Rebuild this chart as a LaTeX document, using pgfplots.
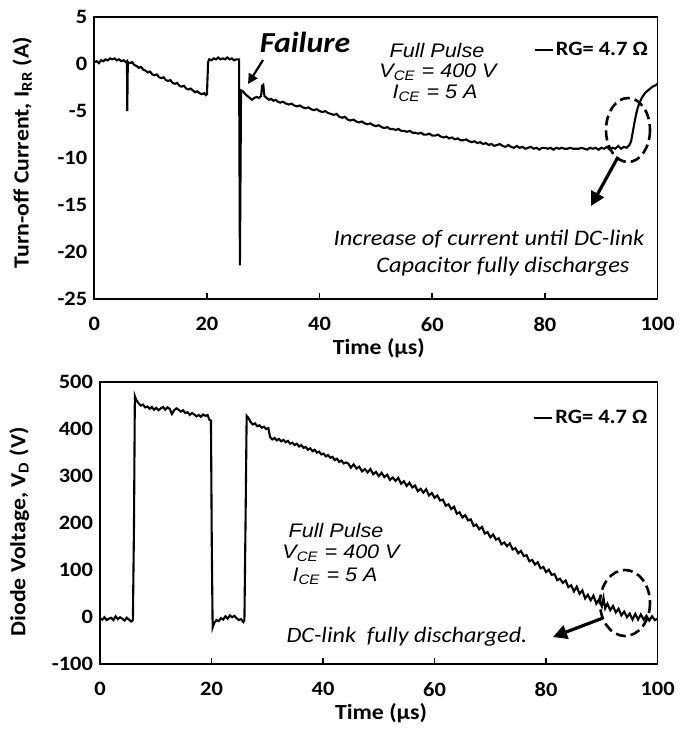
\documentclass[border=0pt]{standalone}
\usepackage{fontspec}
\setmainfont{Carlito}[FakeStretch=1.1]
\newfontfamily\arialfont{Liberation Sans}[FakeStretch=1.1]
\usepackage{pgfplots}
\usepackage{pgfplotstable}
\pgfplotsset{compat=1.18}
\usetikzlibrary{arrows.meta}

\pgfplotstableread{
x y
0 0.2
0.4 0.3
0.8 0.1
1.2 0.4
1.6 0.3
2.0 0.5
2.4 0.4
2.8 0.6
3.2 0.5
3.6 0.6
4.0 0.4
4.4 0.5
4.8 0.3
5.2 0.4
5.6 0.2
5.8 0.3
5.85 -5.0
5.95 0.2
6.3 0.1
6.7 0.2
7.1 -0.1
7.5 -0.2
7.9 -0.4
8.3 -0.3
8.7 -0.6
9.1 -0.7
9.5 -0.9
9.9 -0.8
10.3 -1.1
10.7 -1.2
11.1 -1.1
11.5 -1.4
11.9 -1.5
12.3 -1.4
12.7 -1.7
13.1 -1.8
13.5 -1.7
13.9 -2.0
14.3 -2.1
14.7 -2.0
15.1 -2.3
15.5 -2.4
15.9 -2.3
16.3 -2.6
16.7 -2.7
17.1 -2.6
17.5 -2.8
17.9 -3.0
18.3 -2.9
18.7 -3.1
19.1 -3.2
19.5 -3.1
19.8 -3.3
20.0 -3.2
20.2 0.2
20.4 0.5
20.8 0.4
21.2 0.6
21.6 0.5
22.0 0.7
22.4 0.5
22.8 0.6
23.2 0.5
23.6 0.7
24.0 0.5
24.4 0.6
24.8 0.4
25.2 0.5
25.7 0.5
25.85 -21.4
26.05 -2.8
26.4 -2.9
26.8 -3.2
27.2 -3.4
27.6 -3.6
28.0 -3.8
28.4 -3.6
28.8 -3.5
29.2 -3.6
29.6 -3.4
29.8 -2.3
30.0 -2.2
30.2 -3.4
30.6 -3.6
31.0 -3.8
31.4 -3.7
31.8 -3.9
32.2 -3.8
32.6 -4.0
33 -4.1
33.5 -4.0
34 -4.2
34.5 -4.3
35 -4.2
35.5 -4.4
36 -4.5
36.5 -4.4
37 -4.6
37.5 -4.7
38 -4.6
38.5 -4.8
39 -4.9
39.5 -4.8
40 -5.0
40.5 -5.1
41 -5.0
41.5 -5.2
42 -5.3
42.5 -5.4
43 -5.3
43.5 -5.6
44 -5.7
44.5 -5.6
45 -5.9
45.5 -6.0
46 -5.9
46.5 -6.1
47 -6.2
47.5 -6.1
48 -6.3
48.5 -6.4
49 -6.3
49.5 -6.5
50 -6.6
50.5 -6.5
51 -6.7
51.5 -6.8
52 -6.7
52.5 -6.9
53 -6.9
53.5 -7.0
54 -6.9
54.5 -7.1
55 -7.1
55.5 -7.2
56 -7.1
56.5 -7.3
57 -7.3
57.5 -7.4
58 -7.3
58.5 -7.5
59 -7.5
59.5 -7.4
60 -7.6
60.5 -7.6
61 -7.5
61.5 -7.7
62 -7.8
62.5 -7.7
63 -7.9
63.5 -7.8
64 -8.0
64.5 -7.9
65 -8.1
65.5 -8.1
66 -8.0
66.5 -8.2
67 -8.3
67.5 -8.2
68 -8.4
68.5 -8.3
69 -8.5
69.5 -8.4
70 -8.6
70.5 -8.5
71 -8.7
71.5 -8.6
72 -8.5
72.5 -8.7
73 -8.8
73.5 -8.6
74 -8.8
74.5 -8.9
75 -8.7
75.5 -8.9
76 -8.8
76.5 -9.0
77 -8.9
77.5 -8.8
78 -9.0
78.5 -8.9
79 -9.1
79.5 -8.9
80 -8.9
80.5 -9.0
81 -8.9
81.5 -9.1
82 -8.9
82.5 -9.0
83 -8.9
83.5 -9.0
84 -9.0
84.5 -8.9
85 -9.0
85.5 -9.0
86 -9.0
86.5 -8.9
87 -9.0
87.5 -9.1
88 -8.9
88.5 -9.0
89 -8.9
89.5 -9.1
90 -8.9
90.5 -9.0
91 -8.8
91.5 -9.1
92 -8.9
92.5 -9.0
93 -8.7
93.5 -9.0
94 -8.8
94.5 -8.9
95 -8.6
95.3 -8.2
95.6 -7.2
95.9 -6.2
96.2 -5.3
96.5 -4.6
96.8 -4.1
97.1 -3.7
97.5 -3.3
97.9 -3.0
98.3 -2.8
98.7 -2.6
99.1 -2.4
99.5 -2.3
100 -2.1
}\topdata

\pgfplotstableread{
x y
0 -2
0.4 -5
0.8 0
1.2 -6
1.6 -3
2.0 -1
2.4 -6
2.8 2
3.2 -4
3.6 0
4.0 -3
4.4 -7
4.8 -1
5.2 -5
5.6 -9
5.9 -6
6.1 200
6.25 470
6.5 462
6.9 455
7.3 450
7.7 452
8.1 446
8.5 448
8.9 443
9.3 447
9.7 441
10.1 445
10.5 440
10.9 444
11.3 447
11.7 441
12.1 446
12.5 443
12.9 432
13.3 440
13.7 444
14.1 441
14.5 437
14.9 440
15.3 434
15.7 436
16.1 430
16.5 434
16.9 431
17.3 427
17.7 430
18.1 426
18.5 431
18.9 428
19.3 430
19.6 420
19.9 418
20.05 150
20.2 -22
20.5 -12
20.9 -6
21.3 -8
21.7 -2
22.1 -5
22.5 2
22.9 -3
23.3 4
23.7 0
24.1 3
24.5 -2
24.9 -6
25.3 -4
25.7 -10
25.9 -6
26.1 200
26.3 428
26.6 424
27.0 415
27.4 410
27.8 412
28.2 406
28.6 408
29.0 403
29.4 405
29.8 400
30.2 402
30.5 383
30.9 378
31.3 381
31.7 376
32.1 379
32.5 374
32.9 377
33.3 372
33.7 375
34.1 369
34.5 371
34.9 366
35.3 369
35.7 363
36.1 366
36.5 360
36.9 362
37.3 356
37.7 359
38.1 353
38.5 356
38.9 350
39.3 352
39.7 346
40.1 348
40.5 342
40.9 345
41.3 339
41.7 341
42.1 334
42.5 337
42.9 330
43.3 333
43.7 327
44.1 329
44.5 327
45.0 318
45.5 325
46.0 316
46.5 320
47.0 310
47.5 315
48.0 308
48.5 315
49.0 304
49.5 309
50.0 300
50.5 307
51.0 298
51.5 303
52.0 292
52.5 297
53.0 290
53.5 296
54.0 284
54.5 289
55.0 279
55.5 286
56.0 276
56.5 280
57.0 268
57.5 273
58.0 265
58.5 272
59.0 259
59.5 264
60.0 254
60.5 259
61.0 248
61.5 250
62.0 237
62.5 240
63.0 230
63.5 235
64.0 220
64.5 223
65.0 212
65.5 217
66.0 206
66.5 208
67.0 194
67.5 197
68.0 187
68.5 192
69.0 178
69.5 181
70.0 170
70.5 176
71.0 165
71.5 168
72.0 155
72.5 159
73.0 151
73.5 157
74.0 144
74.5 147
75.0 136
75.5 141
76.0 130
76.5 132
77.0 119
77.5 122
78.0 112
78.5 117
79.0 104
79.5 107
80.0 96
80.5 101
81.0 90
81.5 92
82.0 79
82.5 82
83.0 73
83.5 78
84.0 64
84.5 68
85.0 55
85.5 65
86.0 50
86.5 57
87.0 40
87.5 48
88.0 36
88.5 46
89.0 29
89.5 38
90.0 23
90.3 41
90.6 19
91.0 29
91.5 15
92.0 24
92.5 10
93.0 18
93.5 4
94.0 12
94.5 0
95.0 8
95.5 -5
96.0 7
96.5 -5
97.0 6
97.5 -5
98.0 3
98.5 -7
99.0 2
99.5 -6
100 -3
}\bottomdata

\pgfplotsset{
  panel/.style={
    scale only axis,
    xmin=0, xmax=100,
    xtick={0,20,40,60,80,100},
    axis line style={line width=0.85pt},
    tick align=inside,
    xtick pos=lower,
    ytick pos=left,
    major tick length=3pt,
    xtick style={line width=0.85pt, black},
    ytick style={draw=none},
    /pgf/number format/assume math mode=true,
    ticklabel style={font=\fontsize{10.2}{11}\selectfont\bfseries},
    xticklabel style={yshift=-5.5pt},
    label style={font=\fontsize{10.8}{12}\selectfont\bfseries},
    legend style={draw=none, fill=none, inner sep=0pt,
      font=\fontsize{10.2}{11}\selectfont\bfseries,
      nodes={inner sep=1pt}},
    legend image code/.code={\draw[black,line width=1pt] (0pt,0pt) -- (9pt,0pt);},
  }
}

\begin{document}
\begin{tikzpicture}
\useasboundingbox (0,0) rectangle (344.5pt,-367pt);

\begin{axis}[panel,
  at={(47.15pt,-149.65pt)}, anchor=south west,
  width=281.65pt, height=141.15pt,
  ymin=-25, ymax=5, ytick={-25,-20,-15,-10,-5,0,5},
  xlabel={Time (µs)},
  ylabel={Turn-off Current, I\textsubscript{RR} (A)},
  xlabel style={at={(axis description cs:0.505,-0.172)}, anchor=center},
  ylabel style={at={(axis description cs:-0.128,0.52)}, anchor=center},
  legend style={at={(axis description cs:0.987,0.883)}, anchor=east},
]
\addplot[black, line width=1.05pt, no markers] table[x=x,y=y] {\topdata};
\addlegendentry{RG= 4.7 Ω}
\end{axis}

\begin{axis}[panel,
  at={(50pt,-332.15pt)}, anchor=south west,
  width=278.8pt, height=141.15pt,
  ymin=-100, ymax=500, ytick={-100,0,100,200,300,400,500},
  xlabel={Time (µs)},
  ylabel={Diode Voltage, V\textsubscript{D} (V)},
  xlabel style={at={(axis description cs:0.504,-0.172)}, anchor=center},
  ylabel style={at={(axis description cs:-0.145,0.469)}, anchor=center},
  legend style={at={(axis description cs:0.986,0.872)}, anchor=east},
]
\addplot[black, line width=1.05pt, no markers] table[x=x,y=y] {\bottomdata};
\addlegendentry{RG= 4.7 Ω}
\end{axis}

\begin{scope}[x=0.5pt, y=-0.5pt]
  % top annotations
  \node[font=\fontsize{14.5}{16}\selectfont\bfseries\itshape] at (305,42) {Failure};
  \draw[-{Triangle[length=5pt,width=5pt]}, line width=1.1pt] (263,60) -- (248,84);
  \node[font=\arialfont\itshape\fontsize{9.8}{11}\selectfont] at (437,50) {Full Pulse};
  \node[font=\arialfont\itshape\fontsize{9.8}{11}\selectfont] at (438,72) {V\textsubscript{CE} = 400 V};
  \node[font=\arialfont\itshape\fontsize{9.8}{11}\selectfont] at (435,93) {I\textsubscript{CE} = 5 A};
  \draw[dashed, dash pattern=on 5pt off 2.5pt, line width=1.3pt] (628,130) ellipse [x radius=22, y radius=32];
  \draw[-{Triangle[length=7pt,width=7pt]}, line width=1.6pt] (618,157) -- (591,206);
  \node[font=\fontsize{11.1}{13}\selectfont\itshape] at (489,239) {Increase of current until DC-link};
  \node[font=\fontsize{11.1}{13}\selectfont\itshape] at (503,267) {Capacitor fully discharges};
  % bottom annotations
  \node[font=\arialfont\itshape\fontsize{9.8}{11}\selectfont] at (336,530) {Full Pulse};
  \node[font=\arialfont\itshape\fontsize{9.8}{11}\selectfont] at (341,553) {V\textsubscript{CE} = 400 V};
  \node[font=\arialfont\itshape\fontsize{9.8}{11}\selectfont] at (335,576) {I\textsubscript{CE} = 5 A};
  \draw[dashed, dash pattern=on 5pt off 2.5pt, line width=1.3pt] (625,603) ellipse [x radius=25, y radius=33];
  \draw[-{Triangle[length=7pt,width=7pt]}, line width=1.6pt] (603,618) -- (553,637);
  \node[font=\fontsize{11}{13}\selectfont\itshape] at (407,637) {DC-link\ \ fully discharged.};
\end{scope}
\end{tikzpicture}
\end{document}
